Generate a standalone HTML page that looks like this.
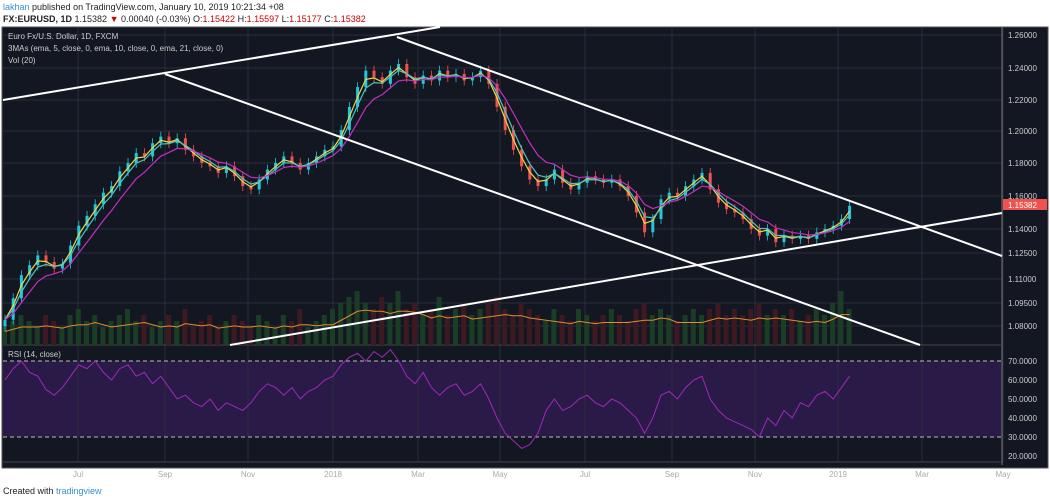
<!DOCTYPE html>
<html><head><meta charset="utf-8"><style>
body{margin:0;width:1050px;height:504px;background:#fff;overflow:hidden;font-family:"Liberation Sans",sans-serif}
#hdr{position:absolute;left:3px;top:1px;font-size:9px;color:#222;line-height:12px}
#ftr{position:absolute;left:3px;top:486px;font-size:9px;color:#222}
svg{position:absolute;left:0;top:0}
</style></head><body>
<div id="hdr"><span style="color:#3a8fd6">lakhan</span> published on TradingView.com, January 10, 2019 10:21:34 +08<br><b>FX:EURUSD, 1D</b> 1.15382 <span style="color:#c00">▼</span> 0.00040 (-0.03%) O:<span style="color:#c00">1.15422</span> H:<span style="color:#c00">1.15597</span> L:<span style="color:#c00">1.15177</span> C:<span style="color:#c00">1.15382</span></div>
<div id="ftr">Created with <span style="color:#3a8fd6">tradingview</span></div>
<svg id="c" width="1050" height="504"></svg>
<script>
const closes=[1.085,1.098,1.112,1.118,1.124,1.120,1.116,1.119,1.130,1.142,1.148,1.155,1.162,1.166,1.175,1.180,1.186,1.184,1.192,1.196,1.192,1.195,1.188,1.184,1.180,1.178,1.174,1.178,1.172,1.166,1.164,1.170,1.176,1.180,1.184,1.180,1.176,1.180,1.184,1.188,1.190,1.200,1.214,1.226,1.236,1.232,1.228,1.236,1.240,1.232,1.228,1.233,1.230,1.236,1.232,1.234,1.230,1.232,1.236,1.228,1.214,1.200,1.188,1.178,1.170,1.166,1.170,1.176,1.168,1.164,1.168,1.172,1.170,1.168,1.170,1.166,1.160,1.150,1.138,1.146,1.158,1.162,1.160,1.166,1.170,1.174,1.164,1.156,1.152,1.150,1.146,1.140,1.136,1.140,1.132,1.136,1.134,1.136,1.134,1.138,1.140,1.142,1.146,1.154];
const volumes=[0.3,0.4,0.5,0.4,0.3,0.5,0.4,0.3,0.5,0.6,0.4,0.5,0.3,0.4,0.5,0.6,0.4,0.5,0.3,0.4,0.5,0.4,0.6,0.3,0.4,0.5,0.3,0.4,0.5,0.4,0.3,0.5,0.4,0.3,0.5,0.4,0.6,0.3,0.4,0.5,0.6,0.7,0.8,0.9,0.7,0.6,0.8,0.7,0.9,0.6,0.7,0.5,0.6,0.8,0.5,0.6,0.7,0.5,0.6,0.7,0.8,0.6,0.5,0.7,0.6,0.5,0.4,0.6,0.5,0.4,0.6,0.5,0.4,0.5,0.6,0.5,0.4,0.6,0.7,0.5,0.6,0.5,0.4,0.5,0.6,0.5,0.6,0.7,0.5,0.6,0.5,0.6,0.7,0.5,0.6,0.5,0.6,0.4,0.5,0.6,0.5,0.7,0.9,0.6];
const rsi=[60,66,70,64,62,55,52,56,62,68,66,70,64,60,66,68,62,64,58,62,56,50,52,48,46,50,44,48,46,44,48,54,58,56,52,56,50,54,56,60,62,68,72,74,70,75,72,76,70,62,58,64,56,52,56,58,52,54,58,50,40,32,28,24,26,32,44,50,44,46,50,52,48,46,50,48,44,40,32,40,52,54,50,56,60,62,50,44,40,38,36,34,30,40,36,44,40,48,46,52,54,50,56,62];
const priceTicks=[["1.26000",35],["1.24000",68],["1.22000",100],["1.20000",131],["1.18000",163],["1.16000",196],["1.14000",229],["1.12500",253],["1.11000",279],["1.09500",303],["1.08000",326]];
const rsiTicks=[70,60,50,40,30,20];
const dateLabels=[["Jul",78],["Sep",165],["Nov",248],["2018",333],["Mar",418],["May",500],["Jul",585],["Sep",672],["Nov",755],["2019",838],["Mar",922],["May",1003]];
const NS="http://www.w3.org/2000/svg",s=document.getElementById('c');
function el(t,a,p){const e=document.createElementNS(NS,t);for(const k in a)e.setAttribute(k,a[k]);(p||s).appendChild(e);return e}
const X=i=>5+i*8.2, Y=p=>229-(p-1.14)*1650, RY=v=>361+(70-v)*1.9;
let e;
e=el('rect',{x:2,y:27,width:1046,height:441,fill:'#131722',stroke:'#555'});
el('rect',{x:3,y:361,width:999,height:76,fill:'#2a1a48'});
priceTicks.forEach(t=>{el('line',{x1:3,x2:1002,y1:t[1],y2:t[1],stroke:'#2a2e3a'});e=el('text',{x:1008,y:t[1]+3,fill:'#ccc','font-size':8});e.textContent=t[0];});
dateLabels.forEach(d=>{el('line',{x1:d[1],x2:d[1],y1:27,y2:462,stroke:'#2a2e3a'});e=el('text',{x:d[1],y:477,fill:'#aaa','font-size':8,'text-anchor':'middle'});e.textContent=d[0];});
rsiTicks.forEach(v=>{e=el('text',{x:1008,y:RY(v)+3,fill:'#ccc','font-size':8});e.textContent=v.toFixed(4);});
el('line',{x1:1002,x2:1002,y1:27,y2:465,stroke:'#777'});
el('line',{x1:3,x2:1002,y1:345,y2:345,stroke:'#444'});
el('line',{x1:3,x2:1002,y1:462,y2:462,stroke:'#444'});
[70,30].forEach(v=>el('line',{x1:3,x2:1002,y1:RY(v),y2:RY(v),stroke:'#bbb','stroke-dasharray':'4 3'}));
volumes.forEach((v,i)=>{const up=i==0||closes[i]>=closes[i-1];e=el('rect',{x:X(i)-3,y:345-v*60,width:5,height:v*60,fill:up?'#1a3d26':'#3d1a22'});});
let vp=[];volumes.forEach((v,i)=>{let a=0,n=0;for(let j=Math.max(0,i-3);j<=i;j++){a+=volumes[j];n++}vp.push(X(i)+','+(345-a/n*45))});
el('polyline',{points:vp.join(' '),fill:'none',stroke:'#e08a2a','stroke-width':1});
closes.forEach((c,i)=>{const o=i?closes[i-1]:c-0.004,up=c>=o,col=up?'#26c6da':'#ef5350';const hi=Math.max(o,c)+0.003,lo=Math.min(o,c)-0.003;
el('line',{x1:X(i),x2:X(i),y1:Y(hi),y2:Y(lo),stroke:col,'stroke-width':0.8});
e=el('rect',{x:X(i)-1.5,y:Y(Math.max(o,c)),width:3,height:Math.max(1,Math.abs(Y(o)-Y(c))),fill:col});});
function ema(n,col){let k=2/(n+1),v=closes[0],p=[];closes.forEach((c,i)=>{v=i?c*k+v*(1-k):c;p.push(X(i)+','+Y(v))});e=el('polyline',{points:p.join(' '),fill:'none',stroke:col,'stroke-width':1.2});}
ema(2,'#e8d84a');ema(3,'#4fc3c0');ema(6,'#c030c0');
e=el('polyline',{points:rsi.map((v,i)=>X(i)+','+RY(v)).join(' '),fill:'none',stroke:'#a028b8','stroke-width':1});
[[3,100,440,27],[165,74,920,345],[397,37,1002,256],[230,345,1002,213]].forEach(l=>{e=el('line',{x1:l[0],y1:l[1],x2:l[2],y2:l[3],stroke:'#fff','stroke-width':2});});
e=el('rect',{x:1003,y:199,width:44,height:11,fill:'#ef5350'});
e=el('text',{x:1008,y:208,fill:'#fff','font-size':8});e.textContent='1.15382';
[["Euro Fx/U.S. Dollar, 1D, FXCM",39],["3MAs (ema, 5, close, 0, ema, 10, close, 0, ema, 21, close, 0)",51],["Vol (20)",63]].forEach(t=>{e=el('text',{x:8,y:t[1],fill:'#ccc','font-size':8});e.textContent=t[0];});
e=el('text',{x:8,y:357,fill:'#ccc','font-size':8});e.textContent='RSI (14, close)';
</script></body></html>
